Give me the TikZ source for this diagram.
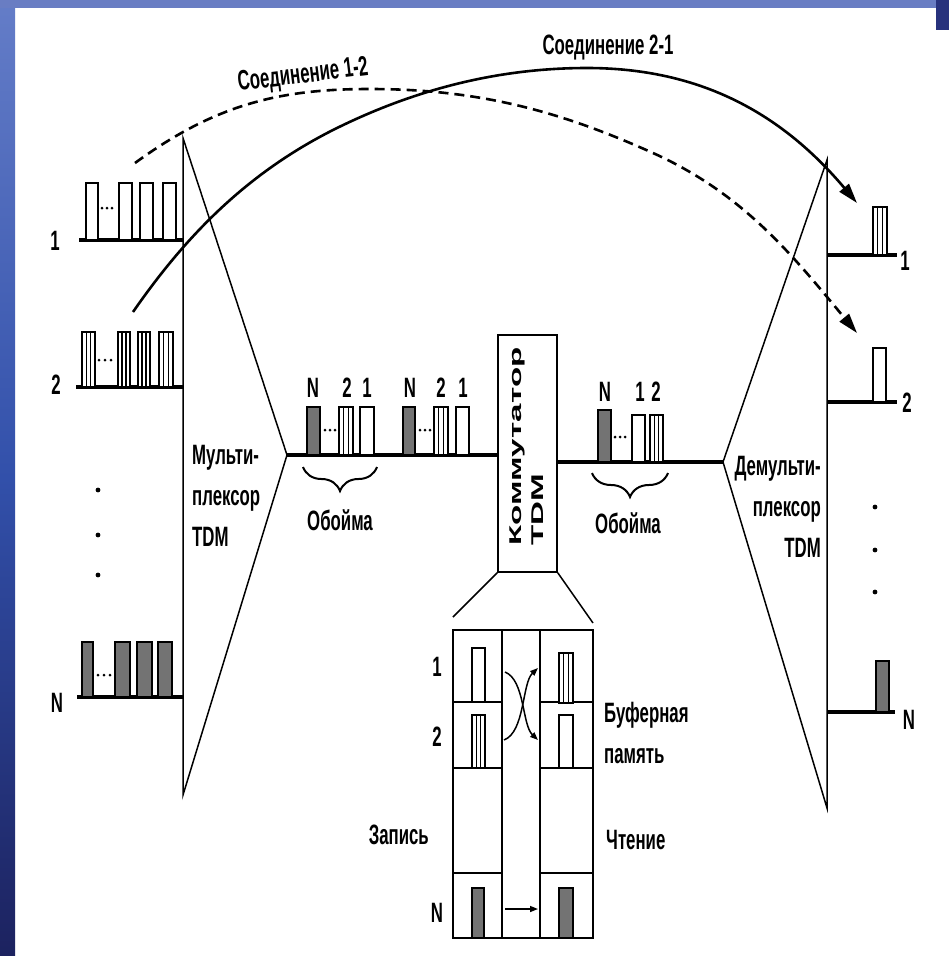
\documentclass[tikz,border=0pt]{standalone}
\usepackage{fontspec}
\setmainfont{Liberation Sans}
\newfontfamily\nar{Liberation Sans}[FakeStretch=0.6]
\newfontfamily\widef{Liberation Sans}[FakeStretch=1.95]
\usetikzlibrary{decorations.pathreplacing,arrows.meta}
\definecolor{bgA}{RGB}{100,125,200}
\definecolor{bgB}{RGB}{50,80,170}
\definecolor{bgC}{RGB}{28,34,95}
\definecolor{bgT}{RGB}{105,125,195}
\definecolor{bgN}{RGB}{40,50,125}
\newcommand\pulO[4]{\draw[pul] (#1,#4) rectangle (#2,#3);}
\newcommand\pulS[4]{\draw[pul] (#1,#4) rectangle (#2,#3);
  \draw[pul] ({#1+(#2-#1)/3},#3) -- ({#1+(#2-#1)/3},#4);
  \draw[pul] ({#1+2*(#2-#1)/3},#3) -- ({#1+2*(#2-#1)/3},#4);}
\newcommand\pulD[4]{\draw[pul,fill=black!55] (#1,#4) rectangle (#2,#3);}
\newcommand\tridots[3]{\fill ({#1},#3) circle (1.5) ({(#1+#2)/2},#3) circle (1.5) ({#2},#3) circle (1.5);}
\begin{document}
\begin{tikzpicture}[x=1pt,y=-1pt,
  lbl/.style={font=\nar\bfseries\fontsize{28}{41}\selectfont, inner sep=0pt},
  boxl/.style={font=\widef\bfseries\fontsize{17}{22}\selectfont, inner sep=0pt},
  tri/.style={line width=1.5pt, line join=miter},
  chan/.style={line width=3.6pt},
  pul/.style={line width=1.5pt, fill=white},
  frm/.style={line width=1.5pt},
  row/.style={line width=2pt},
  brc/.style={line width=2pt, decorate, decoration={brace, amplitude=24pt, mirror}},
  arcA/.style={line width=2.6pt, -{Triangle[length=20pt,width=12pt]}},
  arcB/.style={line width=2.6pt, dash pattern=on 10pt off 6pt, -{Triangle[length=20pt,width=12pt]}},
  sma/.style={line width=1.5pt, -{Triangle[length=8pt,width=6pt]}}
]
\useasboundingbox (0,0) rectangle (949,956);
\fill[white] (0,0) rectangle (949,956);
% slide background
\shade[top color=bgA, bottom color=bgC, middle color=bgB] (0,0) rectangle (15,956);
\fill[bgT] (0,0) rectangle (949,8);
\fill[bgN] (936,0) rectangle (949,30);

% multiplexer
\coordinate (mxT) at (183,138);
\coordinate (mxB) at (183,795);
\coordinate (mxA) at (287,455);
\draw[tri] (mxT) -- (mxB) -- (mxA) -- cycle;
% demultiplexer
\coordinate (dmT) at (827,160);
\coordinate (dmB) at (827,808);
\coordinate (dmA) at (723,462);
\draw[tri] (dmT) -- (dmB) -- (dmA) -- cycle;

% input channels
\coordinate (i1) at (79,240);  \coordinate (i1e) at (183,240);
\coordinate (i2) at (76,387);  \coordinate (i2e) at (183,387);
\coordinate (iN) at (77,697);  \coordinate (iNe) at (183,697);
\draw[chan] (i1) -- (i1e);
\draw[chan] (i2) -- (i2e);
\draw[chan] (iN) -- (iNe);
\pulO{86}{98}{183}{240}\tridots{102}{112}{208}\pulO{119}{132}{183}{240}\pulO{140}{153}{183}{240}\pulO{163}{176}{183}{240}
\pulS{82}{95}{332}{387}\tridots{99}{111}{360}\pulS{118}{130}{332}{387}\pulS{138}{150}{332}{387}\pulS{159}{173}{332}{387}
\pulD{82}{93}{642}{697}\tridots{98}{110}{675}\pulD{115}{130}{642}{697}\pulD{137}{152}{642}{697}\pulD{158}{172}{642}{697}
\node[lbl] (l1) at (55,241) {1};
\node[lbl] (l2) at (56,385) {2};
\node[lbl] (lN) at (57,703) {N};
\fill (98,490) circle (2.4) (98,535) circle (2.4) (98,575) circle (2.4);

% output channels
\coordinate (o1) at (897,255); \coordinate (o1s) at (827,255);
\coordinate (o2) at (897,402); \coordinate (o2s) at (827,402);
\coordinate (oN) at (895,712); \coordinate (oNs) at (827,712);
\draw[chan] (o1s) -- (o1);
\draw[chan] (o2s) -- (o2);
\draw[chan] (oNs) -- (oN);
\pulS{873}{887}{207}{255}
\pulO{873}{886}{348}{402}
\pulD{876}{889}{661}{712}
\node[lbl] (r1) at (905,261) {1};
\node[lbl] (r2) at (907,403) {2};
\node[lbl] (rN) at (909,720) {N};
\fill (875,507) circle (2.4) (875,550) circle (2.4) (875,592) circle (2.4);

% labels of mux / demux
\node[lbl, anchor=north west, align=left] (mxl) at (192,445) {Мульти-\\плексор\\TDM};
\node[lbl, anchor=north east, align=right] (dml) at (821,456) {Демульти-\\плексор\\TDM};

% switch box
\node[draw, frm, minimum width=59pt, minimum height=237pt, inner sep=0pt] (sw) at (527.5,453.5) {};
\node[boxl, rotate=90, anchor=north west, align=left] (swl) at (510,546) {Коммутатор\\TDM};

% trunk lines
\draw[chan] (mxA) -- (sw.west |- mxA);
\draw[chan] (sw.east |- dmA) -- (dmA);

% frames on trunk
\pulD{307}{320}{407}{455}\tridots{325}{335}{430}\pulS{339}{353}{407}{455}\pulO{360}{374}{407}{455}
\pulD{403}{415}{407}{455}\tridots{420}{430}{430}\pulS{434}{448}{407}{455}\pulO{456}{469}{407}{455}
\pulD{598}{611}{410}{462}\tridots{615}{625}{437}\pulO{632}{645}{415}{462}\pulS{650}{663}{415}{462}
\node[lbl] at (313,388) {N};
\node[lbl] at (347,388) {2};
\node[lbl] at (367,388) {1};
\node[lbl] at (410,388) {N};
\node[lbl] at (441,388) {2};
\node[lbl] at (463,388) {1};
\node[lbl] at (605,392) {N};
\node[lbl] at (640,392) {1};
\node[lbl] at (656,392) {2};
\draw[brc] (303,467) -- (377,467);
\draw[brc] (592,473) -- (668,473);
\node[lbl] (ob1) at (340,520) {Обойма};
\node[lbl] (ob2) at (628,523) {Обойма};

% buffer memory
\coordinate (bmTL) at (453,630);
\coordinate (bmBR) at (593,938);
\draw[frm] (sw.south west) -- (453,617);
\draw[frm] (sw.south east) -- (593,623);
\draw[frm] (bmTL) rectangle (bmBR);
\draw[frm] (502,630) -- (502,938);
\draw[frm] (540,630) -- (540,938);
\foreach \yy in {702,768,873}{
  \draw[row] (453,\yy) -- (502,\yy);
  \draw[row] (540,\yy) -- (593,\yy);
}
\pulO{472}{485}{648}{702}
\pulS{472}{485}{715}{768}
\pulS{559}{573}{653}{703}
\pulO{559}{573}{715}{768}
\pulD{472}{484}{888}{938}
\pulD{559}{573}{888}{938}
\coordinate (w1) at (505,672); \coordinate (r2a) at (538,740);
\coordinate (w2) at (504,740); \coordinate (r1a) at (538,668);
\draw[sma] (w1) .. controls (525,680) and (522,725) .. (r2a);
\draw[sma] (w2) .. controls (525,732) and (522,683) .. (r1a);
\coordinate (wN) at (505,909); \coordinate (rN) at (538,909);
\draw[sma] (wN) -- (rN);
\node[lbl] at (437,667) {1};
\node[lbl] at (437,737) {2};
\node[lbl] at (437,913) {N};
\node[lbl, anchor=east] at (429,835) {Запись};
\node[lbl, anchor=west, align=left] at (604,733) {Буферная\\память};
\node[lbl, anchor=west] at (606,840) {Чтение};

% connections
\coordinate (c12s) at (135,163);
\coordinate (c12e) at (857,333);
\draw[arcB] (c12s) .. controls (216,104) and (280,89) .. (370,89)
  .. controls (480,89) and (562,112) .. (653,153)
  .. controls (744,194) and (793,256) .. (c12e);
\coordinate (c21s) at (133,312);
\coordinate (c21e) at (857,203);
\draw[arcA] (c21s) .. controls (187,234) and (248,173) .. (333,130)
  .. controls (413,90) and (497,68) .. (587,68)
  .. controls (702,68) and (783,115) .. (c21e);
\node[lbl, rotate=7] (t12) at (303,76) {Соединение 1-2};
\node[lbl] (t21) at (608,48) {Соединение 2-1};
\end{tikzpicture}
\end{document}
